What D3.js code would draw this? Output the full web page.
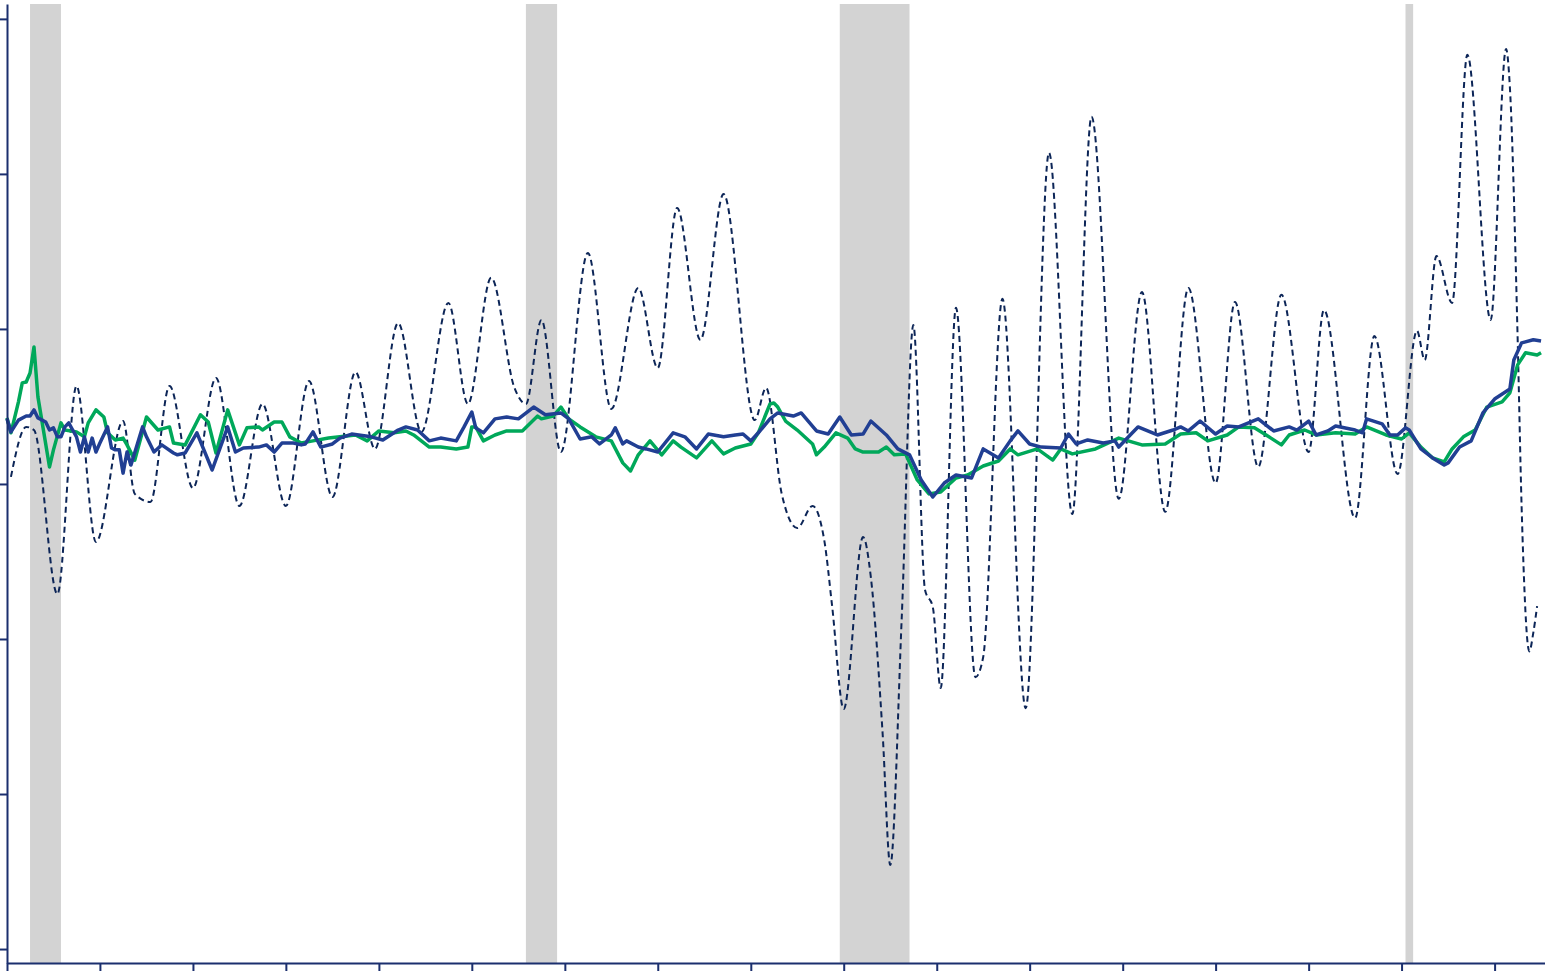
<!DOCTYPE html>
<html>
<head>
<meta charset="utf-8">
<script src="https://cdn.jsdelivr.net/npm/d3@7"></script>
<style>
  html, body { margin: 0; padding: 0; background: #ffffff; }
  svg { display: block; font-family: "Liberation Sans", Arial, sans-serif; }
</style>
</head>
<body>
<svg id="chart" width="1545" height="976"></svg>
<script>
// ---------------- DATA ----------------
const recessionStarts = ["1990-07", "2001-03", "2007-12", "2020-02"];
const recessionEnds   = ["1991-03", "2001-11", "2009-06", "2020-04"];

const xTickYears = [1990,1992,1994,1996,1998,2000,2002,2004,2006,2008,2010,2012,2014,2016,2018,2020,2022];
const yTickValues = [-15,-10,-5,0,5,10,15];

// Volatile series (dashed)
const dashedDates = ["1990-02","1990-06","1990-08","1991-02","1991-07","1991-12","1992-07","1992-10","1993-02","1993-07",
  "1994-01","1994-07","1995-01","1995-07","1996-01","1996-07","1997-01","1997-07","1997-12","1998-06",
  "1998-12","1999-07","1999-12","2000-06","2000-12","2001-03","2001-07","2001-12","2002-07","2003-01",
  "2003-08","2004-01","2004-06","2004-12","2005-06","2006-02","2006-05","2006-09","2007-01","2007-05",
  "2007-08","2007-10","2008-01","2008-06","2008-08","2008-11","2009-01","2009-04","2009-07","2009-10",
  "2009-12","2010-02","2010-06","2010-11","2011-01","2011-06","2011-12","2012-06","2012-12","2013-05",
  "2013-12","2014-06","2014-12","2015-06","2016-01","2016-06","2016-12","2017-06","2018-01","2018-05",
  "2019-01","2019-06","2019-12","2020-05","2020-07","2020-10","2021-02","2021-06","2021-12","2022-04",
  "2022-05","2022-07","2022-08","2022-10","2022-11","2022-12"];
const dashedValues = [0.23,1.84,1.74,-3.55,3.16,-1.87,2.03,-0.32,-0.58,3.16,
  -0.13,3.42,-0.71,2.58,-0.71,3.32,-0.42,3.61,1.13,5.19,
  1.68,5.84,2.58,6.65,3.10,2.58,5.29,1.03,7.45,2.42,
  6.32,3.74,8.90,4.65,9.35,2.06,3.10,-0.32,-1.42,-0.71,
  -1.81,-3.9,-7.26,-1.71,-3.0,-8.0,-12.29,-4.3,5.13,-3.42,
  -3.97,-6.58,5.68,-6.23,-5.58,5.97,-7.23,10.68,-0.97,11.84,
  -0.48,6.19,-0.90,6.32,0.03,5.87,0.55,6.10,1.03,5.61,
  -1.10,4.77,0.32,4.94,4.0,7.35,5.84,13.84,5.29,14.03,
  12.8,4.7,-0.7,-5.4,-4.8,-3.94];

// Blue solid series
const blueDates = ["1990-01","1990-02","1990-04","1990-06","1990-07","1990-08","1990-09","1990-11","1990-12","1991-01",
  "1991-02","1991-03","1991-04","1991-05","1991-06","1991-07","1991-08","1991-09","1991-10","1991-11",
  "1991-12","1992-01","1992-03","1992-04","1992-05","1992-06","1992-07","1992-08","1992-09","1992-12",
  "1993-01","1993-03","1993-05","1993-08","1993-09","1993-11","1994-02","1994-06","1994-10","1994-12",
  "1995-02","1995-06","1995-08","1995-10","1995-12","1996-03","1996-05","1996-06","1996-08","1996-10",
  "1997-01","1997-03","1997-06","1997-11","1998-02","1998-06","1998-08","1998-11","1999-02","1999-05",
  "1999-09","1999-11","2000-01","2000-02","2000-04","2000-07","2000-10","2001-01","2001-05","2001-08",
  "2001-12","2002-02","2002-05","2002-08","2002-10","2003-01","2003-02","2003-04","2003-05","2003-08",
  "2003-10","2004-01","2004-05","2004-08","2004-11","2005-02","2005-06","2005-09","2005-11","2006-01",
  "2006-03","2006-06","2006-08","2006-12","2007-02","2007-06","2007-09","2007-12","2008-03","2008-06",
  "2008-08","2008-12","2009-03","2009-06","2009-09","2009-12","2010-03","2010-06","2010-10","2011-01",
  "2011-05","2011-08","2011-10","2012-01","2012-04","2012-09","2012-11","2013-01","2013-04","2013-08",
  "2013-11","2013-12","2014-03","2014-05","2014-10","2015-02","2015-04","2015-06","2015-09","2016-01",
  "2016-04","2016-07","2016-12","2017-04","2017-08","2017-10","2018-01","2018-03","2018-06","2018-08",
  "2019-01","2019-03","2019-04","2019-08","2019-10","2019-12","2020-02","2020-03","2020-06","2020-09",
  "2020-12","2021-01","2021-04","2021-07","2021-10","2022-01","2022-05","2022-06","2022-08","2022-11",
  "2023-01"];
const blueValues = [2.10,1.68,2.06,2.19,2.19,2.39,2.13,2.0,1.74,1.81,
  1.52,1.52,1.84,1.97,1.74,1.52,1.03,1.52,1.03,1.48,
  1.03,1.32,1.84,1.16,1.10,1.10,0.35,1.03,0.61,1.84,
  1.52,1.03,1.26,1.0,0.94,1.0,1.65,0.45,1.84,1.03,
  1.16,1.19,1.26,1.03,1.32,1.32,1.26,1.29,1.68,1.19,
  1.29,1.48,1.61,1.52,1.42,1.74,1.84,1.74,1.39,1.48,
  1.39,1.84,2.32,1.81,1.65,2.10,2.16,2.10,2.48,2.23,
  2.29,2.10,1.45,1.52,1.29,1.58,1.81,1.29,1.39,1.19,
  1.13,1.03,1.65,1.52,1.13,1.61,1.52,1.58,1.61,1.39,
  1.65,2.10,2.29,2.19,2.29,1.71,1.61,2.16,1.58,1.61,
  2.03,1.58,1.13,0.94,0.13,-0.42,0.03,0.29,0.19,1.13,
  0.84,1.39,1.71,1.29,1.19,1.16,1.61,1.29,1.42,1.32,
  1.39,1.19,1.58,1.84,1.58,1.74,1.84,1.71,2.03,1.61,
  1.87,1.84,2.10,1.71,1.84,1.74,2.03,1.58,1.71,1.87,
  1.74,1.65,2.10,1.94,1.58,1.58,1.81,1.74,1.13,0.84,
  0.61,0.68,1.19,1.39,2.29,2.74,3.06,4.0,4.55,4.65,
  4.61];

// Green solid series
const greenDates = ["1990-01","1990-02","1990-04","1990-05","1990-06","1990-07","1990-08","1990-09","1990-12","1991-01",
  "1991-03","1991-04","1991-07","1991-09","1991-10","1991-12","1992-02","1992-03","1992-05","1992-07",
  "1992-08","1992-10","1993-01","1993-04","1993-07","1993-08","1993-11","1994-03","1994-05","1994-07",
  "1994-10","1995-01","1995-03","1995-06","1995-07","1995-10","1995-12","1996-02","1996-05","1996-08",
  "1996-12","1997-07","1997-10","1998-01","1998-05","1998-08","1998-10","1999-02","1999-05","1999-09",
  "1999-12","2000-01","2000-02","2000-04","2000-07","2000-10","2001-02","2001-06","2001-07","2001-10",
  "2001-12","2002-02","2002-05","2002-09","2003-01","2003-04","2003-06","2003-08","2003-11","2004-02",
  "2004-05","2004-07","2004-11","2005-03","2005-06","2005-09","2006-01","2006-03","2006-06","2006-07",
  "2006-08","2006-10","2007-01","2007-05","2007-06","2007-08","2007-11","2008-02","2008-04","2008-06",
  "2008-10","2008-12","2009-02","2009-05","2009-08","2009-11","2010-02","2010-06","2010-09","2011-01",
  "2011-05","2011-08","2011-10","2012-03","2012-07","2012-09","2012-12","2013-06","2013-12","2014-06",
  "2014-12","2015-04","2015-08","2015-11","2016-04","2016-07","2016-11","2017-02","2017-06","2017-08",
  "2017-12","2018-03","2018-08","2019-01","2019-04","2019-09","2020-01","2020-03","2020-06","2020-09",
  "2020-12","2021-02","2021-05","2021-08","2021-11","2022-03","2022-05","2022-07","2022-09","2022-12",
  "2023-01"];
const greenValues = [2.13,1.65,2.65,3.26,3.29,3.58,4.42,2.81,0.55,1.10,
  1.97,1.74,1.68,1.52,1.97,2.39,2.16,1.65,1.42,1.48,
  1.26,0.77,2.16,1.74,1.84,1.32,1.26,2.23,2.0,1.0,
  2.39,1.26,1.81,1.84,1.74,2.0,2.0,1.52,1.32,1.39,
  1.48,1.58,1.39,1.71,1.65,1.71,1.58,1.19,1.19,1.13,
  1.19,1.84,1.84,1.39,1.58,1.71,1.71,2.19,2.10,2.19,
  2.48,2.10,1.84,1.52,1.39,0.68,0.42,0.94,1.39,0.94,
  1.39,1.19,0.84,1.39,0.97,1.16,1.29,1.65,2.58,2.61,
  2.48,2.03,1.74,1.29,0.94,1.19,1.65,1.48,1.13,1.03,
  1.03,1.19,0.94,0.97,0.13,-0.32,-0.26,0.19,0.29,0.58,
  0.74,1.13,0.94,1.13,0.77,1.13,0.97,1.13,1.48,1.26,
  1.29,1.61,1.65,1.39,1.58,1.84,1.81,1.58,1.26,1.58,
  1.74,1.58,1.65,1.61,1.84,1.58,1.45,1.65,1.19,0.84,
  0.71,1.13,1.52,1.74,2.48,2.65,2.94,3.84,4.23,4.16,
  4.23];

// ---------------- CHART ----------------
const parse = d3.timeParse("%Y-%m");
const svg = d3.select("#chart");

const x = d3.scaleTime()
  .domain([new Date(1990, 0, 1), new Date(2023, 1, 1)])
  .range([7, 1545]);
const y = d3.scaleLinear()
  .domain([-15.45, 15.48])
  .range([963, 4]);

const AXIS = "#1b2f6e";

// recession shading
svg.append("g").selectAll("rect")
  .data(recessionStarts.map((s, i) => ({ s: parse(s), e: parse(recessionEnds[i]) })))
  .join("rect")
  .attr("x", d => x(d.s))
  .attr("width", d => x(d.e) - x(d.s))
  .attr("y", y.range()[1])
  .attr("height", y.range()[0] - y.range()[1])
  .attr("fill", "#d3d3d3");

function toSeries(dates, values) {
  return dates.map((d, i) => ({ date: parse(d), value: values[i] }));
}

const line = d3.line()
  .x(d => x(d.date))
  .y(d => y(d.value))
  .curve(d3.curveMonotoneX);

const lineSharp = d3.line()
  .x(d => x(d.date))
  .y(d => y(d.value))
  .curve(d3.curveLinear);

svg.append("path")
  .datum(toSeries(dashedDates, dashedValues))
  .attr("fill", "none")
  .attr("stroke", "#0c2557")
  .attr("stroke-width", 2)
  .attr("stroke-dasharray", "6,4")
  .attr("d", line);

svg.append("path")
  .datum(toSeries(greenDates, greenValues))
  .attr("fill", "none")
  .attr("stroke", "#00a85a")
  .attr("stroke-width", 3.5)
  .attr("stroke-linejoin", "round")
  .attr("d", lineSharp);

svg.append("path")
  .datum(toSeries(blueDates, blueValues))
  .attr("fill", "none")
  .attr("stroke", "#213f93")
  .attr("stroke-width", 3.5)
  .attr("stroke-linejoin", "round")
  .attr("d", lineSharp);

// axes
const xAxis = d3.axisBottom(x)
  .tickValues(xTickYears.map(yr => new Date(yr, 0, 1)))
  .tickSize(8)
  .tickSizeOuter(0)
  .tickFormat("");
const gx = svg.append("g")
  .attr("transform", `translate(0,${y.range()[0]})`)
  .call(xAxis);

const yAxis = d3.axisLeft(y)
  .tickValues(yTickValues)
  .tickSize(7)
  .tickSizeOuter(0)
  .tickFormat("");
const gy = svg.append("g")
  .attr("transform", `translate(${x.range()[0]},0)`)
  .call(yAxis);

[gx, gy].forEach(g => {
  g.select(".domain").attr("stroke", AXIS).attr("stroke-width", 2);
  g.selectAll(".tick line").attr("stroke", AXIS).attr("stroke-width", 2);
});
</script>
</body>
</html>
